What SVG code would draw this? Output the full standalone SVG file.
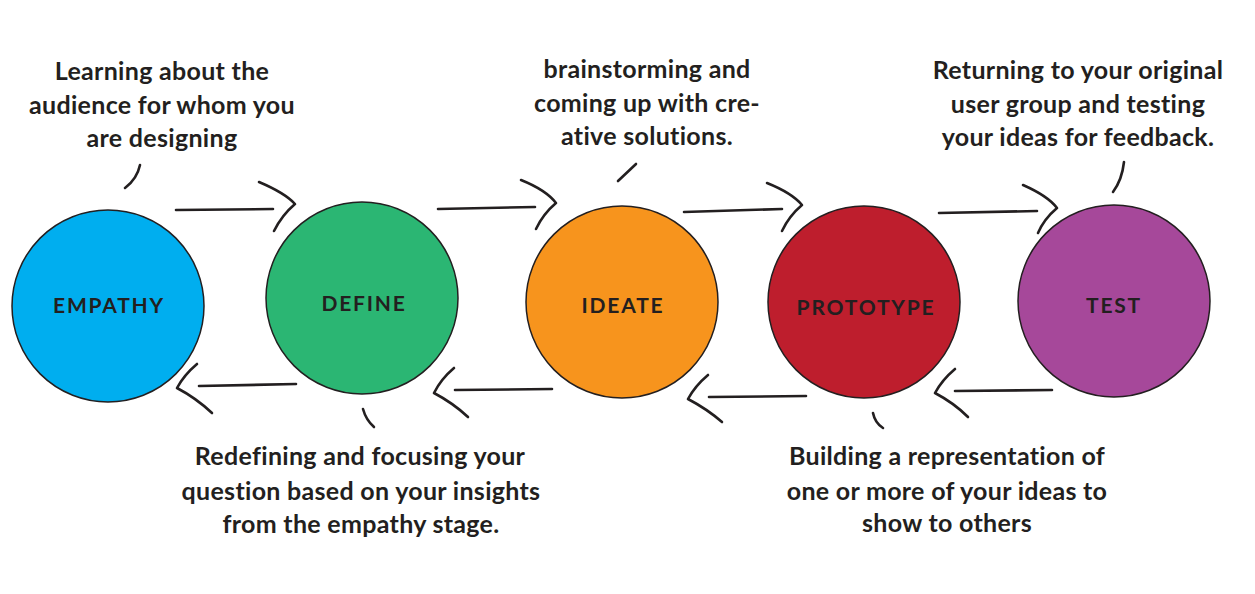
<svg xmlns="http://www.w3.org/2000/svg" width="1255" height="594" viewBox="0 0 1255 594">
<style>
.bg{fill:#ffffff}
.node circle{stroke:#231f20;stroke-width:1.5}
.lbl{font-family:Lato,"Open Sans",sans-serif;font-weight:700;font-size:21px;fill:#231f20;text-anchor:middle;letter-spacing:1.8px}
.note{font-family:Lato,"Open Sans",sans-serif;font-weight:700;font-size:25px;fill:#231f20;text-anchor:middle;letter-spacing:0.3px}
.ln{fill:none;stroke:#231f20;stroke-width:2.6;stroke-linecap:round;stroke-linejoin:round}
</style>
<rect class="bg" x="0" y="0" width="1255" height="594"/>
<g id="connectors">
  <path class="ln" d="M176,210 L273,209"/>
  <path class="ln" d="M259,182 Q285,193 295,204 Q282,215 274,231"/>
  <path class="ln" d="M438,209 L535,207"/>
  <path class="ln" d="M521,180 Q546,190 556,203 Q543,214 536,229"/>
  <path class="ln" d="M684,212 L782,209"/>
  <path class="ln" d="M767,183 Q792,193 802,205 Q789,216 782,231"/>
  <path class="ln" d="M939,213 L1037,211"/>
  <path class="ln" d="M1023,185 Q1048,196 1057,208 Q1044,219 1038,233"/>
  <path class="ln" d="M296,384 L199,386"/>
  <path class="ln" d="M197,364 Q184,375 177,388 Q196,398 212,413"/>
  <path class="ln" d="M552,389 L455,390"/>
  <path class="ln" d="M454,368 Q441,379 434,393 Q453,403 468,417"/>
  <path class="ln" d="M806,396 L709,397"/>
  <path class="ln" d="M708,375 Q695,386 688,399 Q707,409 722,422"/>
  <path class="ln" d="M1052,390 L955,391"/>
  <path class="ln" d="M955,369 Q942,380 935,393 Q954,403 968,417"/>
  <path class="ln" d="M140,165 Q137,179 125,188"/>
  <path class="ln" d="M636,164 L618,181"/>
  <path class="ln" d="M1124,162 Q1122,180 1113,192"/>
  <path class="ln" d="M363,409 Q366,420 374,427"/>
  <path class="ln" d="M873,413 Q875,423 883,428"/>
</g>
<g id="empathy" class="node">
  <circle cx="108" cy="306" r="96" fill="#00aeef"/>
  <text class="lbl" x="109" y="313">EMPATHY</text>
</g>
<g id="define" class="node">
  <circle cx="362" cy="298" r="96" fill="#2bb673"/>
  <text class="lbl" x="364" y="311">DEFINE</text>
</g>
<g id="ideate" class="node">
  <circle cx="622" cy="302" r="96" fill="#f7941d"/>
  <text class="lbl" x="623" y="313">IDEATE</text>
</g>
<g id="prototype" class="node">
  <circle cx="864" cy="302" r="96" fill="#be1e2d"/>
  <text class="lbl" x="866" y="315">PROTOTYPE</text>
</g>
<g id="test" class="node">
  <circle cx="1114" cy="301" r="96" fill="#a6489a"/>
  <text class="lbl" x="1114" y="313">TEST</text>
</g>
<g id="note-empathy">
  <text class="note" x="162" y="80">Learning about the</text>
  <text class="note" x="162" y="114">audience for whom you</text>
  <text class="note" x="162" y="147">are designing</text>
</g>
<g id="note-ideate">
  <text class="note" x="647" y="78">brainstorming and</text>
  <text class="note" x="647" y="112">coming up with cre-</text>
  <text class="note" x="647" y="145">ative solutions.</text>
</g>
<g id="note-test">
  <text class="note" x="1078" y="79">Returning to your original</text>
  <text class="note" x="1078" y="113">user group and testing</text>
  <text class="note" x="1078" y="146">your ideas for feedback.</text>
</g>
<g id="note-define">
  <text class="note" x="360" y="465">Redefining and focusing your</text>
  <text class="note" x="361" y="500">question based on your insights</text>
  <text class="note" x="361" y="533">from the empathy stage.</text>
</g>
<g id="note-prototype">
  <text class="note" x="947" y="465">Building a representation of</text>
  <text class="note" x="947" y="500">one or more of your ideas to</text>
  <text class="note" x="947" y="532">show to others</text>
</g>
</svg>
